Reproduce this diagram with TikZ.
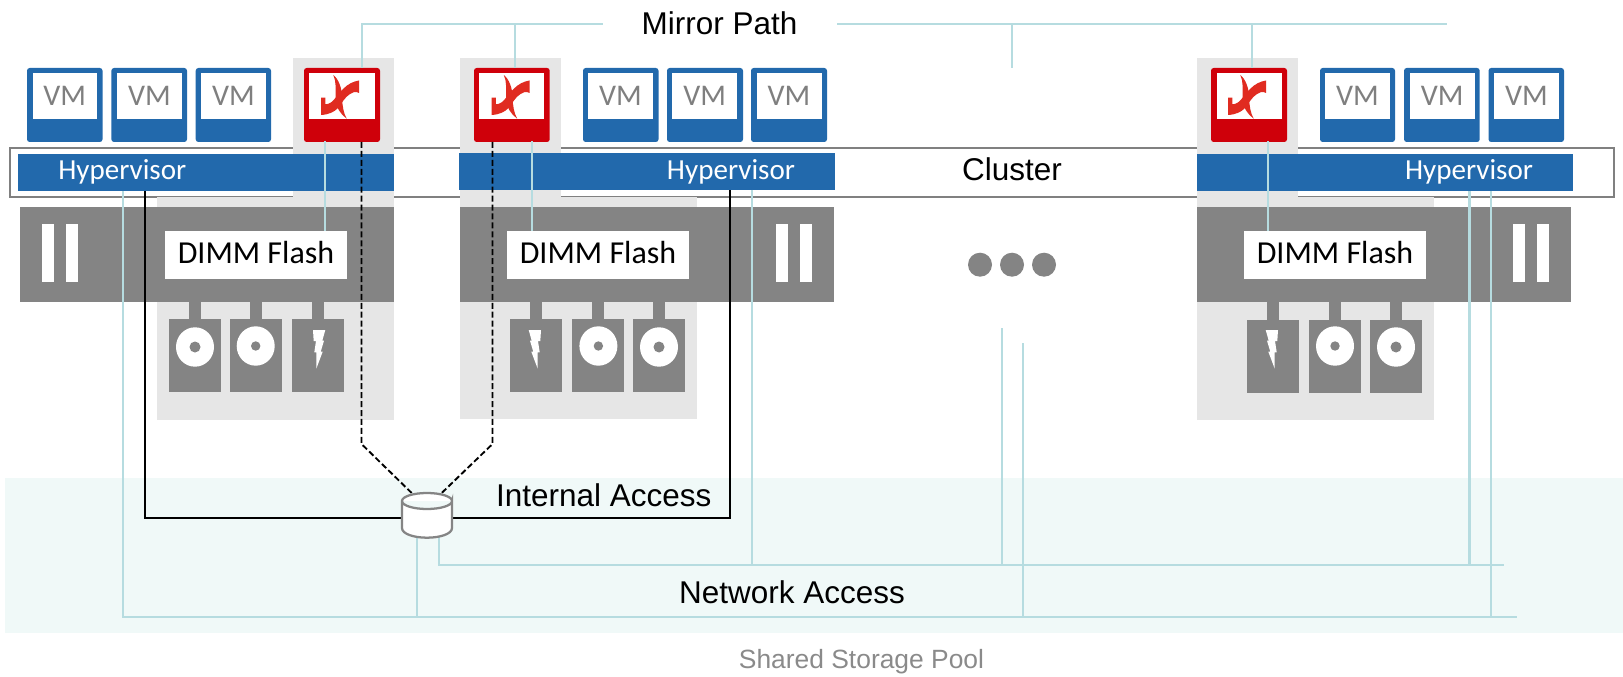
\documentclass[tikz,border=0pt]{standalone}
\usepackage{fontspec}
\setmainfont{Liberation Sans}
\newfontfamily\calfont{Carlito}
\definecolor{vmblue}{HTML}{2269AC}
\definecolor{redbox}{HTML}{CF000A}
\definecolor{logored}{HTML}{E02B20}
\definecolor{srvgrey}{HTML}{848484}
\definecolor{panelgrey}{HTML}{E6E6E6}
\definecolor{bandtint}{HTML}{F0F9F8}
\definecolor{linkteal}{HTML}{B6DCE0}
\definecolor{textgrey}{HTML}{7F7F7F}
\definecolor{pooltext}{HTML}{8A8A8A}
\tikzset{
  flat/.style={inner sep=0pt,outer sep=0pt,rectangle},
  band/.style={flat,fill=bandtint},
  clusterbox/.style={flat,draw=black!50,line width=.9pt},
  panel/.style={flat,fill=panelgrey},
  srv/.style={flat,fill=srvgrey},
  hyperbar/.style={flat,fill=vmblue},
  vmbox/.style={flat,fill=vmblue,rounded corners=2pt},
  redcase/.style={flat,fill=redbox,rounded corners=2pt},
  whitebox/.style={flat,fill=white},
  vmscreen/.style={flat,fill=white,text=textgrey,font=\calfont\fontsize{22.5}{22.5}\selectfont,text height=24.4pt,text depth=10.1pt},
  dimmbox/.style={flat,fill=white,text=black,font=\calfont\fontsize{24}{24}\selectfont,text height=24pt,text depth=12pt},
  hyptext/.style={flat,anchor=base,text=white,font=\calfont\fontsize{21.8}{21.8}\selectfont},
  biglabel/.style={flat,anchor=base,text=black,font=\fontsize{23.6}{23.6}\selectfont},
  poollabel/.style={flat,anchor=base,text=pooltext,font=\fontsize{19.8}{19.8}\selectfont},
  dotn/.style={circle,inner sep=0pt,outer sep=0pt,minimum size=18pt,fill=srvgrey},
  tealline/.style={draw=linkteal,line width=1.6pt},
  blackline/.style={draw=black,line width=1.5pt},
  dashline/.style={draw=black,line width=1.4pt,dash pattern=on 4.5pt off 2.2pt},
}
\newcommand{\pxbox}[7][]{\node[#2,anchor=north west,minimum width={(#5-#3)*.75pt},minimum height={(#6-#4)*.75pt},#1] (#7) at (#3,#4)}
\newcommand{\mirlogo}[2]{%
 \begin{scope}[shift={(#1,#2)}]
  \fill[logored] (17,29.7) -- (17,47) .. controls (25,46.5) and (30,44) .. (33.5,40.5)
    .. controls (38,35) and (41,29) .. (46,26) .. controls (48.5,24.5) and (51,23.5) .. (52.5,24)
    -- (55,25) -- (55,12.5) .. controls (49,13.5) and (44,16) .. (39,21)
    .. controls (35,25) and (31,31) .. (27.7,34) .. controls (25,36) and (23,36.3) .. (21.3,36.3)
    -- (21.3,29.7) -- cycle;
  \fill[logored] (29.3,7) .. controls (34.5,11) and (38,20) .. (38.2,30)
    .. controls (38.3,38) and (39.5,45) .. (42.7,50.7)
    .. controls (36.5,46) and (32,40) .. (31.5,30)
    .. controls (31.5,21) and (32.5,14) .. (29.3,7) -- cycle;
 \end{scope}}
\newcommand{\boltshape}[3]{%
 \fill[white,shift={(#1,#2)},xscale=#3] (0,0) -- (12.3,0) -- (9.3,10.7) -- (11,10.7) -- (7.7,21.7) -- (9.7,21.7)
   -- (3.3,38.7) -- (3.3,22.3) -- (1.3,22.3) -- (3,11) -- (.7,11) -- cycle;}
\newcommand{\discshape}[3]{%
 \fill[white] (#1,#2) ellipse [x radius=19,y radius=19.7];
 \fill[srvgrey] (#1,#2) circle [radius=#3];}
\begin{document}
\begin{tikzpicture}[x=.75pt,y=-.75pt]
\useasboundingbox (0,0) rectangle (1623,677);
% pale band
\pxbox{band}{5}{478}{1623}{632.7}{bandpool} {};
% cluster frame
\pxbox{clusterbox}{10}{148}{1614}{197}{cluster} {};
% grey panels
\pxbox{panel}{293}{58}{394}{207}{col1} {};
\pxbox{panel}{460}{58}{561}{207}{col2} {};
\pxbox{panel}{1197}{58}{1298}{207}{col3} {};
\pxbox{panel}{157}{197}{394}{420}{low1} {};
\pxbox{panel}{460}{197}{697}{419}{low2} {};
\pxbox{panel}{1197}{197}{1434}{420}{low3} {};
% hypervisors
\pxbox{hyperbar}{18}{154}{394}{191}{hyp1} {};
\pxbox{hyperbar}{459}{153}{835}{190}{hyp2} {};
\pxbox{hyperbar}{1197}{154}{1573}{191}{hyp3} {};
\node[hyptext] (hyptxt1) at (122.3,179.3) {Hypervisor};
\node[hyptext] (hyptxt2) at (731,179.3) {Hypervisor};
\node[hyptext] (hyptxt3) at (1469,179.3) {Hypervisor};
% servers
\pxbox{srv}{20}{207}{394}{302}{srv1} {};
\pxbox{srv}{460}{207}{834}{302}{srv2} {};
\pxbox{srv}{1197}{207}{1571}{302}{srv3} {};
\pxbox{whitebox}{42}{224}{54}{282}{bar1a} {};
\pxbox{whitebox}{66}{224}{78}{282}{bar1b} {};
\pxbox{whitebox}{776}{224}{788}{282}{bar2a} {};
\pxbox{whitebox}{800}{224}{812}{282}{bar2b} {};
\pxbox{whitebox}{1513}{224}{1525}{282}{bar3a} {};
\pxbox{whitebox}{1537}{224}{1549}{282}{bar3b} {};
\pxbox{dimmbox}{165}{231}{347}{279}{dimm1} {DIMM Flash};
\pxbox{dimmbox}{507}{231}{689}{279}{dimm2} {DIMM Flash};
\pxbox{dimmbox}{1244}{231}{1426}{279}{dimm3} {DIMM Flash};
% drives
\pxbox{srv}{189}{302}{201}{320}{st1a} {};
\pxbox{srv}{250}{302}{262}{320}{st1b} {};
\pxbox{srv}{312}{302}{324}{320}{st1c} {};
\pxbox{srv}{169}{319}{221}{392}{dr1a} {};
\pxbox{srv}{230}{319}{282}{392}{dr1b} {};
\pxbox{srv}{292}{319}{344}{392}{dr1c} {};
\discshape{195}{347}{5.5}
\discshape{255.7}{346}{4.7}
\boltshape{313}{330}{1}
\pxbox{srv}{530}{302}{542}{320}{st2a} {};
\pxbox{srv}{592}{302}{604}{320}{st2b} {};
\pxbox{srv}{653}{302}{665}{320}{st2c} {};
\pxbox{srv}{510}{319}{562}{392}{dr2a} {};
\pxbox{srv}{572}{319}{624}{392}{dr2b} {};
\pxbox{srv}{633}{319}{685}{392}{dr2c} {};
\boltshape{541}{330}{-1}
\discshape{598.4}{346}{4.7}
\discshape{659}{347}{5.5}
\pxbox{srv}{1267}{302}{1279}{321}{st3a} {};
\pxbox{srv}{1329}{302}{1341}{321}{st3b} {};
\pxbox{srv}{1390}{302}{1402}{321}{st3c} {};
\pxbox{srv}{1247}{320}{1299}{393}{dr3a} {};
\pxbox{srv}{1309}{320}{1361}{393}{dr3b} {};
\pxbox{srv}{1370}{320}{1422}{393}{dr3c} {};
\boltshape{1278}{330}{-1}
\discshape{1335}{346}{4.7}
\discshape{1396}{347}{5.5}
% VMs
\pxbox{vmbox}{27}{68}{102.5}{142}{vm1a} {};
\pxbox{vmbox}{111.4}{68}{187}{142}{vm1b} {};
\pxbox{vmbox}{195.7}{68}{271}{142}{vm1c} {};
\pxbox{vmscreen}{32.5}{73}{97}{119}{sc1a} {VM};
\pxbox{vmscreen}{117}{73}{182}{119}{sc1b} {VM};
\pxbox{vmscreen}{201}{73}{266}{119}{sc1c} {VM};
\pxbox{vmbox}{583}{68}{658.5}{142}{vm2a} {};
\pxbox{vmbox}{667}{68}{743}{142}{vm2b} {};
\pxbox{vmbox}{751}{68}{827}{142}{vm2c} {};
\pxbox{vmscreen}{588}{73}{653}{119}{sc2a} {VM};
\pxbox{vmscreen}{672.3}{73}{737}{119}{sc2b} {VM};
\pxbox{vmscreen}{756.5}{73}{821.5}{119}{sc2c} {VM};
\pxbox{vmbox}{1320}{68}{1395}{142}{vm3a} {};
\pxbox{vmbox}{1404}{68}{1479.7}{142}{vm3b} {};
\pxbox{vmbox}{1488.5}{68}{1564}{142}{vm3c} {};
\pxbox{vmscreen}{1325}{73}{1390}{119}{sc3a} {VM};
\pxbox{vmscreen}{1409.5}{73}{1475}{119}{sc3b} {VM};
\pxbox{vmscreen}{1494}{73}{1559}{119}{sc3c} {VM};
% mirror cases
\pxbox{redcase}{304}{68}{380}{142}{red1} {};
\pxbox{redcase}{474}{68}{549.7}{142}{red2} {};
\pxbox{redcase}{1211}{68}{1287}{142}{red3} {};
\pxbox{whitebox}{309}{73}{374.5}{119}{in1} {};
\pxbox{whitebox}{479.3}{73}{544}{119}{in2} {};
\pxbox{whitebox}{1216.5}{73}{1281.5}{119}{in3} {};
\mirlogo{304}{68}
\mirlogo{474.5}{68}
\mirlogo{1211}{68}
% dots
\node[dotn] (dotA) at (980,264.7) {};
\node[dotn] (dotB) at (1012,264.7) {};
\node[dotn] (dotC) at (1044,264.7) {};
% labels
\node[biglabel] (mirror) at (719.5,34.3) {Mirror Path};
\node[biglabel] (clusterlbl) at (1012,181) {Cluster};
\node[biglabel] (internal) at (603.8,506.7) {Internal Access};
\node[biglabel] (network) at (792,603.3) {Network Access};
\node[poollabel] (pool) at (861.5,668.5) {Shared Storage Pool};
% storage cylinder anchor and junctions
\node[flat,minimum width=37.5pt,minimum height=33.4pt] (cyl) at (427,515.2) {};
\coordinate (mL) at (602.7,24);
\coordinate (mR) at (837,24);
\coordinate (mEnd) at (1447,24);
\coordinate (m1) at (362,24);
\coordinate (m2) at (514.7,24);
\coordinate (m3) at (1012,24);
\coordinate (m3b) at (1012,68);
\coordinate (m4) at (1251.7,24);
\coordinate (t1) at (324.8,141);
\coordinate (t2) at (531.7,141);
\coordinate (t3) at (1268.3,141);
\coordinate (n1) at (122.7,616.7);
\coordinate (n1e) at (1516.7,616.7);
\coordinate (n2) at (439,565);
\coordinate (n2e) at (1504,565);
\coordinate (n3) at (751.7,565);
\coordinate (n4) at (1469.5,565);
\coordinate (n5) at (1491,616.7);
\coordinate (n6) at (1001.7,565);
\coordinate (n6t) at (1001.7,328);
\coordinate (n7) at (1023,616.7);
\coordinate (n7t) at (1023,343);
\coordinate (n8) at (416.7,616.7);
\coordinate (b1) at (144.7,517.7);
\coordinate (b2) at (730,517.7);
\coordinate (d1) at (361.5,444);
\coordinate (d2) at (492.5,444);
\coordinate (dc1) at (411.7,493);
\coordinate (dc2) at (441.7,493);
% mirror path
\draw[tealline] (red1.north -| m1) -- (m1) -- (mL);
\draw[tealline] (red2.north -| m2) -- (m2);
\draw[tealline] (mR) -- (mEnd);
\draw[tealline] (m3) -- (m3b);
\draw[tealline] (red3.north -| m4) -- (m4);
% case to DIMM
\draw[tealline] (t1) -- (dimm1.north -| t1);
\draw[tealline] (t2) -- (dimm2.north -| t2);
\draw[tealline] (t3) -- (dimm3.north -| t3);
% network access
\draw[tealline] (hyp1.south -| n1) -- (n1) -- (n1e);
\draw[tealline] (cyl.south -| n8) -- (n8);
\draw[tealline] (cyl.south -| n2) -- (n2) -- (n2e);
\draw[tealline] (hyp2.south -| n3) -- (n3);
\draw[tealline] (n6t) -- (n6);
\draw[tealline] (n7t) -- (n7);
\draw[tealline] (hyp3.south -| n4) -- (n4);
\draw[tealline] (hyp3.south -| n5) -- (n5);
% internal access
\draw[blackline] (hyp1.south -| b1) -- (b1) -- (b2) -- (hyp2.south -| b2);
% dashed paths
\draw[dashline] (red1.south -| d1) -- (d1) -- (dc1);
\draw[dashline] (red2.south -| d2) -- (d2) -- (dc2);
% storage cylinder
\draw[draw=black!48,fill=white,line width=1.7pt]
  (402,501) -- (402,528) .. controls (402,534) and (414,537.7) .. (427,537.7)
  .. controls (440,537.7) and (452,534) .. (452,528) -- (452,501)
  .. controls (452,505.4) and (441,509) .. (427,509)
  .. controls (413,509) and (402,505.4) .. (402,501)
  .. controls (402,496.6) and (413,493) .. (427,493)
  .. controls (441,493) and (452,496.6) .. (452,501);
\end{tikzpicture}
\end{document}
